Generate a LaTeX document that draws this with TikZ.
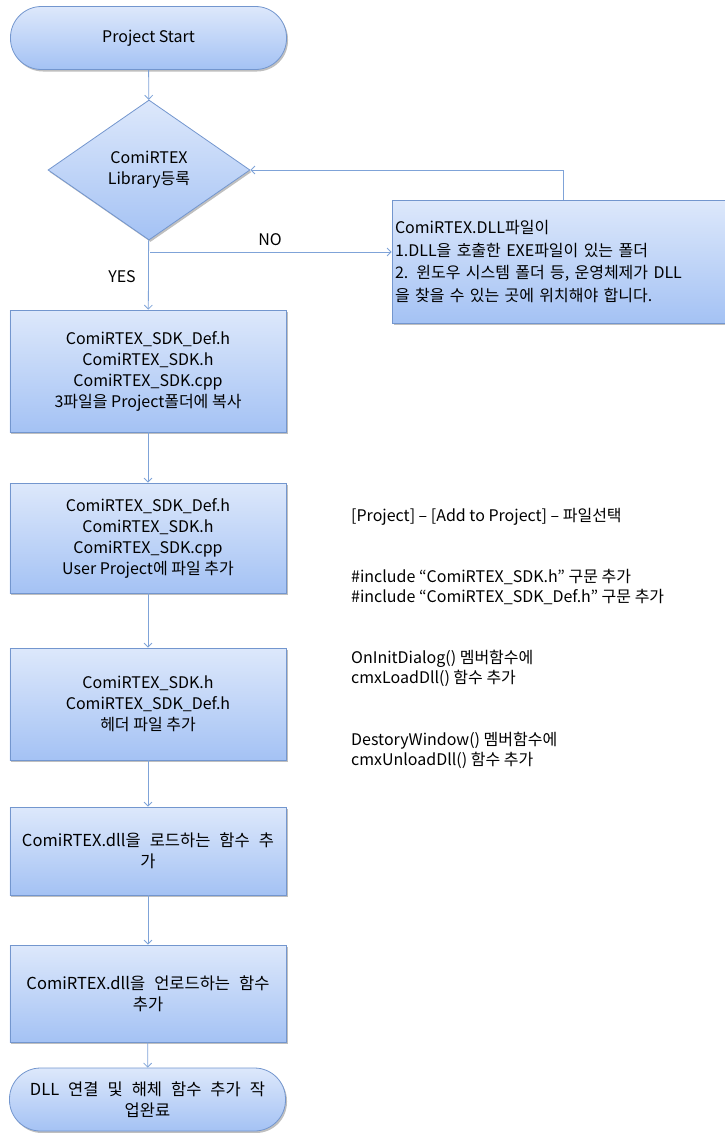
\documentclass[tikz,border=0pt]{standalone}
\usepackage{fontspec}
\setmainfont{Noto Sans CJK KR}
\usetikzlibrary{arrows.meta,shapes.geometric,shadows}
\definecolor{topc}{HTML}{DDE8FB}
\definecolor{botc}{HTML}{A4C2F4}
\definecolor{edgec}{HTML}{7396CE}
\definecolor{linec}{HTML}{7FA3D8}
\newcommand\widesp{\spaceskip=9bp\relax}
\tikzset{
  fl/.style={draw=edgec, line width=0.8bp, top color=topc, bottom color=botc,
    drop shadow={shadow xshift=1.5bp, shadow yshift=-2bp, opacity=0.25, fill=black},
    font=\fontsize{16bp}{21bp}\selectfont, align=center, inner sep=2bp},
  procbox/.style={fl, rectangle, minimum width=276bp},
  widebox/.style={font=\fontsize{16.5bp}{21bp}\selectfont},
  termbox/.style={fl, rectangle, rounded corners=31bp, minimum width=276bp, minimum height=63bp},
  decbox/.style={fl, diamond, minimum width=202bp, minimum height=140bp, inner sep=0bp},
  conn/.style={draw=linec, line width=0.8bp, -{Straight Barb[length=4bp,width=8bp]}},
  note/.style={font=\fontsize{16bp}{20bp}\selectfont, align=left, anchor=west, inner sep=0bp},
  lbl/.style={font=\fontsize{16bp}{20bp}\selectfont, inner sep=0bp}
}
\begin{document}
\begin{tikzpicture}[x=1bp,y=-1bp]
\useasboundingbox (0,0) rectangle (725,1133);
\node[termbox] (start) at (148.5,38) {Project Start};
\node[decbox] (dia) at (149,170) {ComiRTEX\\Library등록};
\node[fl, rectangle, minimum width=333bp, minimum height=123bp, text width=327bp, align=left, font=\fontsize{16bp}{22.5bp}\selectfont] (dll) at (558.5,261.5)
  {ComiRTEX.DLL파일이\\1.DLL을 호출한 EXE파일이 있는 폴더\\2. 윈도우 시스템 폴더 등, 운영체제가 DLL\\을 찾을 수 있는 곳에 위치해야 합니다.};
\node[procbox, minimum height=122bp] (b1) at (148,371) {ComiRTEX\_SDK\_Def.h\\ComiRTEX\_SDK.h\\ComiRTEX\_SDK.cpp\\3파일을 Project폴더에 복사};
\node[procbox, minimum height=110bp] (b2) at (148,538) {ComiRTEX\_SDK\_Def.h\\ComiRTEX\_SDK.h\\ComiRTEX\_SDK.cpp\\User Project에 파일 추가};
\node[procbox, minimum height=112bp] (b3) at (148,704) {ComiRTEX\_SDK.h\\ComiRTEX\_SDK\_Def.h\\헤더 파일 추가};
\node[procbox, widebox, minimum height=88bp] (b4) at (148,851) {\widesp ComiRTEX.dll을 로드하는 함수 추\\가};
\node[procbox, widebox, minimum height=97bp] (b5) at (148,993.5) {\widesp ComiRTEX.dll을 언로드하는 함수\\추가};
\node[termbox, widebox] (fin) at (147.5,1099.5) {\widesp DLL 연결 및 해체 함수 추가 작\\업완료};
% notes
\node[note] (n1) at (351,517) {[Project] – [Add to Project] – 파일선택};
\node[note] (n2) at (351,587) {\#include “ComiRTEX\_SDK.h” 구문 추가\\\#include “ComiRTEX\_SDK\_Def.h” 구문 추가};
\node[note] (n3) at (351,668) {OnInitDialog() 멤버함수에\\cmxLoadDll() 함수 추가};
\node[note] (n4) at (351,750) {DestoryWindow() 멤버함수에\\cmxUnloadDll() 함수 추가};
% labels
\node[lbl] (no) at (270,240) {NO};
\node[lbl] (yes) at (122,277) {YES};
% connectors
\coordinate (fork) at (150,252);
\coordinate (fb) at ([xshift=4.5bp]dll.north);
\draw[conn] (start) -- (dia);
\draw[conn] (dia) -- (b1);
\draw[conn] (fork) -- (fork -| dll.west);
\draw[conn] (fb) |- (dia.east);
\draw[conn] (b1) -- (b2);
\draw[conn] (b2) -- (b3);
\draw[conn] (b3) -- (b4);
\draw[conn] (b4) -- (b5);
\draw[conn] (b5) -- (fin);
\end{tikzpicture}
\end{document}
